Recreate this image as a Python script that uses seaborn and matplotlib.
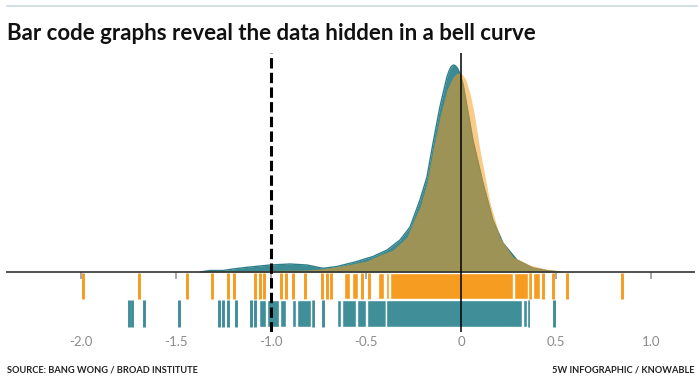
import numpy as np
import pandas as pd
import matplotlib
matplotlib.use("Agg")
import matplotlib.pyplot as plt
import seaborn as sns

# density curves (x value, curve height)
teal_x = [-1.374, -1.321, -1.253, -1.200, -1.126, -1.005, -0.900, -0.811, -0.726,
          -0.653, -0.558, -0.463, -0.389, -0.321, -0.268, -0.216, -0.179, -0.147,
          -0.111, -0.074, -0.063, -0.053, -0.045, -0.037, -0.028, -0.016, -0.005,
          0.011, 0.037, 0.063, 0.116, 0.168, 0.221, 0.295, 0.379, 0.453, 0.521]
teal_d = [0, 0.03, 0.03, 0.06, 0.094, 0.14, 0.16, 0.14, 0.074,
          0.11, 0.2, 0.31, 0.44, 0.64, 0.9, 1.44, 1.9, 2.58,
          3.3, 3.9, 4.02, 4.1, 4.13, 4.14, 4.12, 4.06, 3.96,
          3.76, 3.2, 2.64, 1.78, 1.04, 0.58, 0.24, 0.08, 0.026, 0]
orange_x = [-1.40, -1.305, -1.126, -0.953, -0.811, -0.705, -0.600, -0.495, -0.426,
            -0.358, -0.284, -0.253, -0.216, -0.179, -0.147, -0.111, -0.074, -0.042,
            -0.025, -0.005, 0.010, 0.026, 0.047, 0.068, 0.100, 0.153, 0.205, 0.274,
            0.363, 0.453, 0.558, 0.60]
orange_d = [0, 0.014, 0.02, 0.034, 0.04, 0.074, 0.14, 0.22, 0.34,
            0.44, 0.7, 0.98, 1.3, 1.78, 2.44, 3.1, 3.64, 3.9,
            3.96, 3.99, 3.94, 3.84, 3.58, 3.2, 2.44, 1.38, 0.7, 0.3,
            0.14, 0.054, 0.01, 0]

# bar code rows: single lines, and runs where the lines merge into a block
orange_lines = [-1.991, -1.695, -1.444, -1.311, -1.225, -1.196, -1.083, -1.058, -1.035,
                -0.947, -0.921, -0.883, -0.821, -0.730, -0.707, -0.686, -0.523, -0.482,
                0.363, 0.433, 0.486, 0.556, 0.847]
orange_runs_lo = [-0.616, -0.575, -0.435, -0.396, -0.371, 0.278, 0.381]
orange_runs_hi = [-0.584, -0.541, -0.405, -0.379, 0.275, 0.354, 0.416]

teal_lines = [-1.747, -1.732, -1.668, -1.483, -1.274, -1.254, -1.225, -1.186, -1.105,
              -1.084, -0.779, -0.725, 0.355, 0.489]
teal_runs_lo = [-1.063, -1.022, -0.952, -0.892, -0.864, -0.655, -0.628, -0.549, -0.496,
                -0.395, 0.324]
teal_runs_hi = [-1.024, -0.956, -0.921, -0.866, -0.789, -0.630, -0.551, -0.498, -0.397,
                0.320, 0.346]

tick_vals = [-2.0, -1.5, -1.0, -0.5, 0, 0.5, 1.0]
tick_labels = ["-2.0", "-1.5", "-1.0", "-0.5", "0", "0.5", "1.0"]
threshold = -1.0

ORANGE = "#f69c20"
TEAL = "#3f8e98"

sns.set_theme(style="white")
plt.rcParams['font.family'] = ['Lato', 'DejaVu Sans']

fig = plt.figure(figsize=(7, 3.79), dpi=100)
ax = fig.add_axes([6 / 700, 1 - 332 / 379, 689 / 700, 279 / 379])

teal = pd.DataFrame({"x": teal_x, "d": teal_d})
orange = pd.DataFrame({"x": orange_x, "d": orange_d})

# bell curves
ax.fill_between(teal["x"], teal["d"], color="#3c8a93", lw=0, zorder=2)
sns.lineplot(data=teal, x="x", y="d", color="#2f7f88", lw=1, ax=ax, zorder=3)
ax.fill_between(orange["x"], orange["d"], color=ORANGE, alpha=0.53, lw=0, zorder=4)

# small grey ticks on the baseline
ax.vlines(tick_vals, -0.14, 0, color="#9a9a9a", lw=1.2, zorder=4)

# bar codes
o_top, o_bot = -0.01, -0.53
t_top, t_bot = -0.55, -1.09
ax.vlines(orange_lines, o_bot, o_top, color=ORANGE, lw=2.1, zorder=5)
ax.broken_barh([(lo, hi - lo) for lo, hi in zip(orange_runs_lo, orange_runs_hi)],
               (o_bot, o_top - o_bot), facecolors=ORANGE, zorder=5)
ax.vlines(teal_lines, t_bot, t_top, color=TEAL, lw=2.1, zorder=5)
ax.broken_barh([(lo, hi - lo) for lo, hi in zip(teal_runs_lo, teal_runs_hi)],
               (t_bot, t_top - t_bot), facecolors=TEAL, zorder=5)

ax.axhline(0, color="#333333", lw=1.2, zorder=6)
ax.axvline(threshold, color="black", lw=2.2, dashes=(3.4, 1.4), zorder=8)
ax.axvline(0, color="black", lw=1.1, zorder=8)

ax.set_xlim(-2.395, 1.232)
ax.set_ylim(-1.2, 4.38)
ax.set_xticks(tick_vals, tick_labels)
ax.set_yticks([])
ax.set_xlabel("")
ax.set_ylabel("")
ax.tick_params(axis="x", length=0, pad=3, labelsize=9.5, labelcolor="#8c8c8c")
for s in ax.spines.values():
    s.set_visible(False)

fig.add_artist(plt.Line2D([7 / 700, 697 / 700], [1 - 6 / 379] * 2,
                          color="#d3dfe2", lw=1.5))
fig.text(7 / 700, 1 - 33 / 379, "Bar code graphs reveal the data hidden in a bell curve",
         fontsize=16, fontweight="bold", va="center", color="#111111")
fig.text(7 / 700, 1 - 370 / 379, "SOURCE: BANG WONG / BROAD INSTITUTE",
         fontsize=6.7, fontweight="bold", va="center", color="#222222")
fig.text(694 / 700, 1 - 370 / 379, "5W INFOGRAPHIC / KNOWABLE",
         fontsize=6.7, fontweight="bold", va="center", ha="right", color="#222222")

fig.savefig("out.png", dpi=100)
